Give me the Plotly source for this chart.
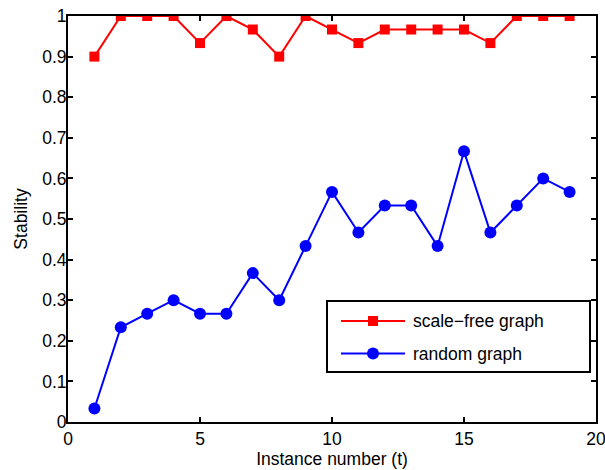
import plotly.graph_objects as go

# Stability per instance for the two graph models
instances = list(range(1, 20))
scale_free = [0.9, 1.0, 1.0, 1.0, 0.9333, 1.0, 0.9667, 0.9, 1.0, 0.9667,
              0.9333, 0.9667, 0.9667, 0.9667, 0.9667, 0.9333, 1.0, 1.0, 1.0]
random_graph = [0.0333, 0.2333, 0.2667, 0.3, 0.2667, 0.2667, 0.3667, 0.3, 0.4333, 0.5667,
                0.4667, 0.5333, 0.5333, 0.4333, 0.6667, 0.4667, 0.5333, 0.6, 0.5667]
series_names = ["scale\u2212free graph", "random graph"]
x_ticks = [0, 5, 10, 15, 20]
y_ticks = [0, 0.1, 0.2, 0.3, 0.4, 0.5, 0.6, 0.7, 0.8, 0.9, 1]

FONT = "Liberation Sans, Arial, Helvetica, sans-serif"
FS = 17.5
W, H = 605, 470
ML, MR, MT, MB = 68, 9, 16, 48
PW, PH = W - ML - MR, H - MT - MB

fig = go.Figure()
fig.add_trace(go.Scatter(
    x=instances, y=scale_free, mode="lines+markers", name=series_names[0],
    line=dict(color="#ff0000", width=2),
    marker=dict(symbol="square", size=10, color="#ff0000"),
    showlegend=False,
))
fig.add_trace(go.Scatter(
    x=instances, y=random_graph, mode="lines+markers", name=series_names[1],
    line=dict(color="#0000ff", width=2),
    marker=dict(symbol="circle", size=12, color="#0000ff"),
    showlegend=False,
))

axis_common = dict(
    showline=True, linecolor="black", linewidth=2, mirror="allticks",
    ticks="inside", ticklen=5, tickwidth=1.5, tickcolor="black",
    showgrid=False, zeroline=False, automargin=False,
    ticklabeloverflow="allow",
    tickfont=dict(family=FONT, size=FS, color="black"),
)
fig.update_xaxes(range=[0, 20], tickvals=x_ticks, ticktext=[str(v) for v in x_ticks],
                 title=dict(text="Instance number (t)", font=dict(family=FONT, size=FS, color="black"),
                            standoff=0),
                 **axis_common)
fig.update_yaxes(range=[0, 1], tickvals=y_ticks, ticktext=[f"{v:g}" for v in y_ticks],
                 ticklabelstandoff=-4,
                 title=dict(text="Stability", font=dict(family=FONT, size=FS, color="black"),
                            standoff=10),
                 **axis_common)


def px(x):
    return (x - ML) / PW


def py(y):
    return (H - MB - y) / PH


# Legend box drawn in the lower-right corner of the axes
shapes = [dict(type="rect", xref="paper", yref="paper",
               x0=px(327), x1=px(590), y0=py(372), y1=py(301),
               line=dict(color="black", width=2), fillcolor="white", layer="above")]
annotations = []
legend_rows = [(series_names[0], "#ff0000", "square", 321),
               (series_names[1], "#0000ff", "circle", 353.5)]
for name, color, sym, yy in legend_rows:
    shapes.append(dict(type="line", xref="paper", yref="paper",
                       x0=px(341), x1=px(405), y0=py(yy), y1=py(yy),
                       line=dict(color=color, width=2), layer="above"))
    if sym == "square":
        shapes.append(dict(type="rect", xref="paper", yref="paper",
                           x0=px(368), x1=px(378), y0=py(yy + 5), y1=py(yy - 5),
                           line=dict(width=0), fillcolor=color, layer="above"))
    else:
        shapes.append(dict(type="circle", xref="paper", yref="paper",
                           x0=px(367), x1=px(379), y0=py(yy + 6), y1=py(yy - 6),
                           line=dict(width=0), fillcolor=color, layer="above"))
    annotations.append(dict(text=name, xref="paper", yref="paper",
                            x=px(411), y=py(yy), xanchor="left", yanchor="middle",
                            showarrow=False, font=dict(family=FONT, size=FS, color="black")))

fig.update_layout(
    width=W, height=H,
    margin=dict(l=ML, r=MR, t=MT, b=MB),
    paper_bgcolor="white", plot_bgcolor="white",
    shapes=shapes, annotations=annotations,
    font=dict(family=FONT, color="black"),
)

fig.write_html("out.html")
